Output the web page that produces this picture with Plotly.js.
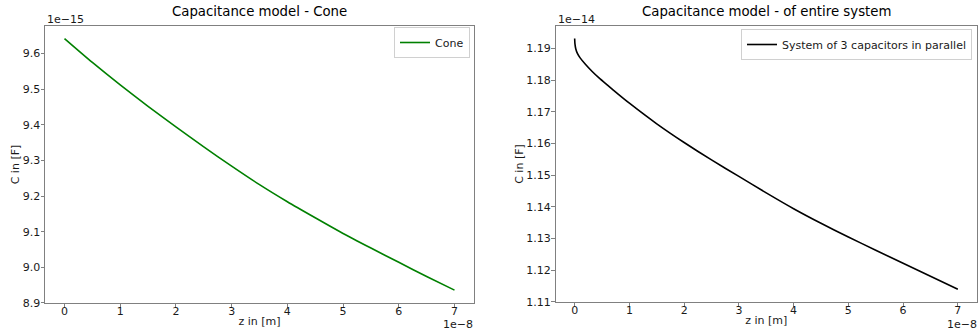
<!DOCTYPE html>
<html>
<head>
<meta charset="utf-8">
<script src="https://cdn.plot.ly/plotly-3.0.1.min.js"></script>
<style>
  html, body { margin: 0; padding: 0; background: #fff; }
  #chart { width: 980px; height: 333px; }
</style>
</head>
<body>
<div id="chart"></div>
<script>
// ---- data (z in units of 1e-8 m, C in units of the axis exponent) ----
const coneZ = [0, 0.5, 1, 1.5, 2, 2.5, 3, 3.5, 4, 4.5, 5, 5.5, 6, 6.5, 7];
const coneC = [9.642, 9.575, 9.512, 9.452, 9.394, 9.338, 9.284, 9.232, 9.184, 9.139, 9.095, 9.054, 9.014, 8.974, 8.936]; // x 1e-15 F

const sysZ = [0, 0.005, 0.02, 0.05, 0.1, 0.2, 0.32, 0.45, 0.6, 0.8, 1, 1.5, 2, 2.5, 3, 3.5, 4, 4.5, 5, 5.5, 6, 6.5, 7];
const sysC = [1.1931, 1.1915, 1.1899, 1.1884, 1.1870, 1.1849, 1.1827, 1.1806, 1.1784, 1.1755, 1.1727, 1.1662, 1.1603, 1.1548, 1.1496, 1.1444, 1.1394, 1.1348, 1.1305, 1.1263, 1.1222, 1.1181, 1.1140]; // x 1e-14 F

const xTicks = [0, 1, 2, 3, 4, 5, 6, 7];
const coneYTicks = [8.9, 9.0, 9.1, 9.2, 9.3, 9.4, 9.5, 9.6];
const sysYTicks = [1.11, 1.12, 1.13, 1.14, 1.15, 1.16, 1.17, 1.18, 1.19];

const titles = ["Capacitance model - Cone", "Capacitance model - of entire system"];
const seriesNames = ["Cone", "System of 3 capacitors in parallel"];
const xLabel = "z in [m]";
const yLabel = "C in [F]";
const xExp = "1e\u22128";
const yExps = ["1e\u221215", "1e\u221214"];

// ---- layout helpers ----
const W = 980, H = 333;
const FONT = "DejaVu Sans, sans-serif";
const px = v => v / W;
const py = v => 1 - v / H;

function pad(arr, ticks) {
  const lo = Math.min(...arr), hi = Math.max(...arr), m = (hi - lo) * 0.05;
  let a = lo - m, b = hi + m;
  if (ticks) {
    const tmin = Math.min(...ticks);
    if (tmin < a && a - tmin < m * 0.2) a = tmin - m * 0.005;
  }
  return [a, b];
}

const frameColor = "#808080";
const txtColor = "#1a1a1a";
const axisCommon = {
  showline: true, mirror: true, linecolor: frameColor, linewidth: 1,
  ticks: "outside", ticklen: 3.5, tickwidth: 1, tickcolor: frameColor,
  showgrid: false, zeroline: false,
  tickfont: { family: FONT, size: 11, color: txtColor }
};
const titleFont = { family: FONT, size: 11, color: txtColor };

const P1 = { l: 45, r: 474, t: 26, b: 303 };
const P2 = { l: 555.5, r: 977, t: 26, b: 302 };

const traces = [
  { x: coneZ, y: coneC, type: "scatter", mode: "lines", name: seriesNames[0],
    line: { color: "#008000", width: 1.6, shape: "spline", smoothing: 0.6 },
    xaxis: "x", yaxis: "y", legend: "legend" },
  { x: sysZ, y: sysC, type: "scatter", mode: "lines", name: seriesNames[1],
    line: { color: "#000000", width: 1.6, shape: "spline", smoothing: 0.6 },
    xaxis: "x2", yaxis: "y2", legend: "legend2" }
];

const layout = {
  width: W, height: H,
  margin: { l: 0, r: 0, t: 0, b: 0 },
  paper_bgcolor: "#fff", plot_bgcolor: "#fff",
  font: { family: FONT, size: 11, color: txtColor },
  showlegend: true,
  xaxis: Object.assign({}, axisCommon, {
    domain: [px(P1.l), px(P1.r)], anchor: "y",
    range: pad(coneZ), tickvals: xTicks, ticktext: xTicks.map(String),
    ticklabelstandoff: -6,
    title: { text: xLabel, standoff: 0, font: titleFont }
  }),
  yaxis: Object.assign({}, axisCommon, {
    domain: [py(P1.b), py(P1.t)], anchor: "x",
    range: pad(coneC, coneYTicks), tickvals: coneYTicks, ticktext: coneYTicks.map(v => v.toFixed(1)),
    ticklabelstandoff: -2,
    title: { text: yLabel, standoff: 0, font: titleFont }
  }),
  xaxis2: Object.assign({}, axisCommon, {
    domain: [px(P2.l), px(P2.r)], anchor: "y2",
    range: pad(sysZ), tickvals: xTicks, ticktext: xTicks.map(String),
    ticklabelstandoff: -6,
    title: { text: xLabel, standoff: 0, font: titleFont }
  }),
  yaxis2: Object.assign({}, axisCommon, {
    domain: [py(P2.b), py(P2.t)], anchor: "x2",
    range: pad(sysC, sysYTicks), tickvals: sysYTicks, ticktext: sysYTicks.map(v => v.toFixed(2)),
    ticklabelstandoff: -2,
    title: { text: yLabel, standoff: 0, font: titleFont }
  }),
  legend: {
    x: px(470), xanchor: "right", y: py(27), yanchor: "top",
    bgcolor: "rgba(255,255,255,0.8)", bordercolor: "#d0d0d0", borderwidth: 1,
    font: { family: FONT, size: 11, color: txtColor }, itemwidth: 30,
    tracegroupgap: 0
  },
  legend2: {
    x: px(972), xanchor: "right", y: py(29), yanchor: "top",
    bgcolor: "rgba(255,255,255,0.8)", bordercolor: "#d0d0d0", borderwidth: 1,
    font: { family: FONT, size: 11, color: txtColor }, itemwidth: 30,
    tracegroupgap: 0
  },
  annotations: [
    { text: titles[0], xref: "paper", yref: "paper", x: px((P1.l + P1.r) / 2), y: py(12),
      xanchor: "center", yanchor: "middle", showarrow: false,
      font: { family: FONT, size: 13.3, color: "#000" } },
    { text: titles[1], xref: "paper", yref: "paper", x: px((P2.l + P2.r) / 2), y: py(12),
      xanchor: "center", yanchor: "middle", showarrow: false,
      font: { family: FONT, size: 13.3, color: "#000" } },
    { text: yExps[0], xref: "paper", yref: "paper", x: px(P1.l), y: py(20),
      xanchor: "left", yanchor: "middle", showarrow: false,
      font: { family: FONT, size: 11, color: txtColor } },
    { text: yExps[1], xref: "paper", yref: "paper", x: px(P2.l), y: py(20),
      xanchor: "left", yanchor: "middle", showarrow: false,
      font: { family: FONT, size: 11, color: txtColor } },
    { text: xExp, xref: "paper", yref: "paper", x: px(P1.r + 1), y: py(324),
      xanchor: "right", yanchor: "middle", showarrow: false,
      font: { family: FONT, size: 11, color: txtColor } },
    { text: xExp, xref: "paper", yref: "paper", x: px(P2.r + 2), y: py(324),
      xanchor: "right", yanchor: "middle", showarrow: false,
      font: { family: FONT, size: 11, color: txtColor } }
  ]
};

Plotly.newPlot("chart", traces, layout, { displayModeBar: false, staticPlot: true });
</script>
</body>
</html>
